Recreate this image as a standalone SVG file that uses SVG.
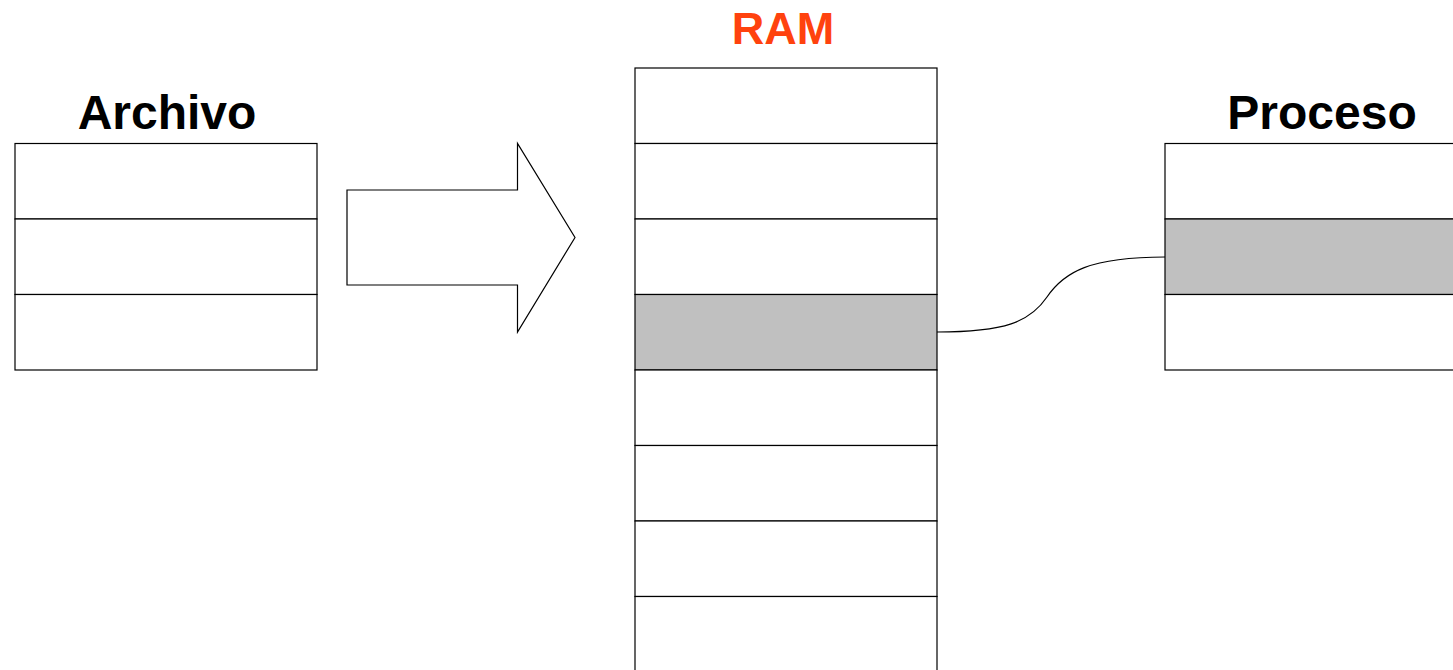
<svg xmlns="http://www.w3.org/2000/svg" width="1453" height="670" viewBox="0 0 1453 670">
<style>
.cell{fill:#ffffff;stroke:#000000;stroke-width:1.2}
.hl{fill:#c0c0c0;stroke:#000000;stroke-width:1.2}
.title{font-family:"Liberation Sans",Arial,sans-serif;font-weight:bold;font-size:48px;text-anchor:middle;fill:#000000}
.ram{font-family:"Liberation Sans",Arial,sans-serif;font-weight:bold;font-size:45px;text-anchor:middle;fill:#ff420e}
.conn{fill:none;stroke:#000000;stroke-width:1.2}
</style>
<rect x="0" y="0" width="1453" height="670" fill="#ffffff"/>
<g id="archivo">
<text class="title" x="167" y="129">Archivo</text>
<rect class="cell" x="15" y="143.5" width="302" height="75.5"/>
<rect class="cell" x="15" y="219" width="302" height="75.5"/>
<rect class="cell" x="15" y="294.5" width="302" height="75.5"/>
</g>
<g id="arrow">
<polygon class="cell" points="347,190 517.5,190 517.5,143.5 575,237.5 517.5,332 517.5,285 347,285"/>
</g>
<g id="ram">
<text class="ram" x="783" y="44">RAM</text>
<rect class="cell" x="635" y="68" width="302" height="75.5"/>
<rect class="cell" x="635" y="143.5" width="302" height="75.5"/>
<rect class="cell" x="635" y="219" width="302" height="75.5"/>
<rect class="hl" x="635" y="294.5" width="302" height="75.5"/>
<rect class="cell" x="635" y="370" width="302" height="75.5"/>
<rect class="cell" x="635" y="445.5" width="302" height="75.5"/>
<rect class="cell" x="635" y="521" width="302" height="75.5"/>
<rect class="cell" x="635" y="596.5" width="302" height="75.5"/>
</g>
<g id="proceso">
<text class="title" x="1322" y="129">Proceso</text>
<rect class="cell" x="1165" y="143.5" width="302" height="75.5"/>
<rect class="hl" x="1165" y="219" width="302" height="75.5"/>
<rect class="cell" x="1165" y="294.5" width="302" height="75.5"/>
</g>
<g id="connectors">
<path class="conn" d="M937,332 C1005,332 1030,322 1047,297 C1064,272 1090,257 1165,257"/>
</g>
</svg>
